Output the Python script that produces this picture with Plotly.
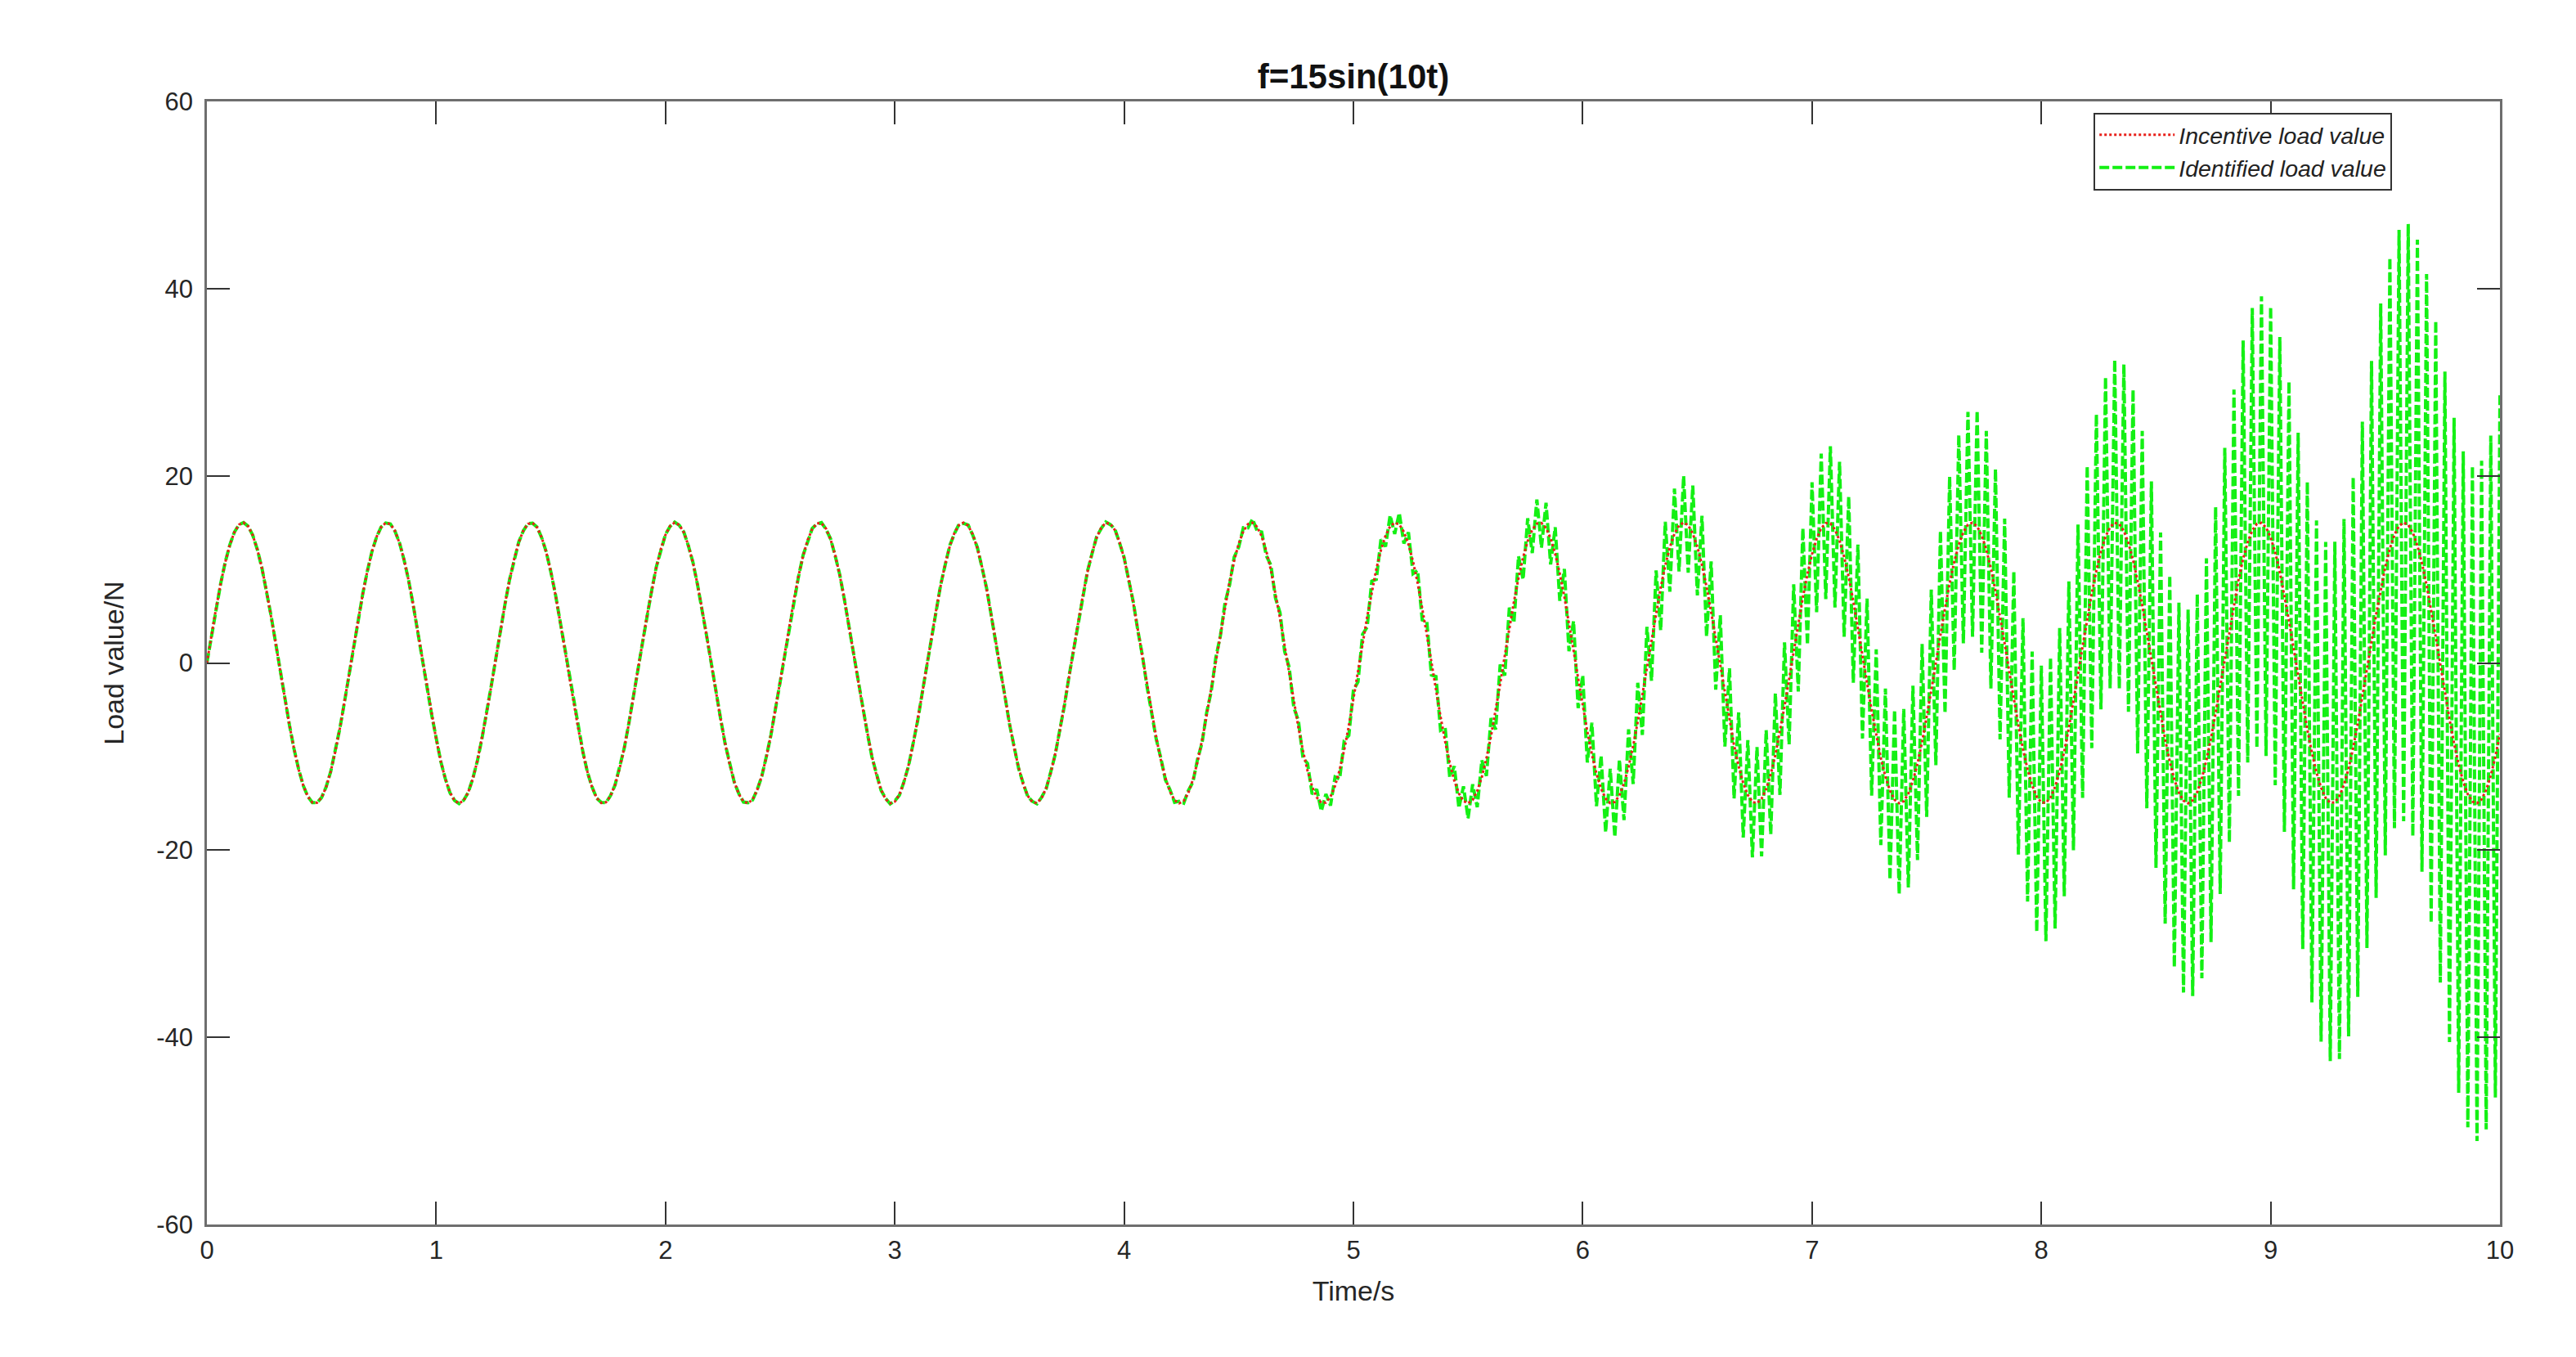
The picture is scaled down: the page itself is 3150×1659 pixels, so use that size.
import numpy as np
import plotly.graph_objects as go

# ---- text ----
title_text = "f=15sin(10t)"
x_label = "Time/s"
y_label = "Load value/N"
series_names = ["Incentive load value", "Identified load value"]

# ---- axes ----
x_ticks = [0, 1, 2, 3, 4, 5, 6, 7, 8, 9, 10]
y_ticks = [-60, -40, -20, 0, 20, 40, 60]

# ---- incentive load (parameters as stated in the title) ----
load_amplitude = 15
load_omega = 10
sample_step = 0.02
t_end = 10

# ---- identified load: half-width of the high-frequency band read at the
#      peaks / troughs of the incentive load ----
env_t = [0.0, 4.0, 4.56, 4.87, 5.18, 5.50, 5.81, 6.13, 6.44, 6.76, 7.07,
         7.38, 7.70, 8.01, 8.33, 8.64, 8.96, 9.27, 9.58, 9.90, 10.0]
env_a = [0.0, 0.1, 0.4, 0.9, 1.2, 1.6, 2.6, 3.7, 5.0, 6.0, 8.2,
         9.7, 12.2, 14.7, 17.5, 20.7, 24.2, 27.7, 31.9, 36.1, 36.5]

# ---- build series ----
t = np.round(np.arange(0, t_end + sample_step / 2, sample_step), 6)
incentive = load_amplitude * np.sin(load_omega * t)
band = np.interp(t, env_t, env_a)
alt = np.where(np.arange(t.size) % 2 == 0, 1.0, -1.0)
identified = incentive + alt * band

FONT = "Liberation Sans, Arial, Helvetica"
TXT = "#262626"

fig = go.Figure()
fig.add_trace(go.Scatter(
    x=t, y=identified, mode="lines", name=series_names[1],
    line=dict(color="#14f014", width=4, dash="12px,4px"),
))
fig.add_trace(go.Scatter(
    x=t, y=incentive, mode="lines", name=series_names[0],
    line=dict(color="#e8201a", width=3, dash="dot"),
))

axis_common = dict(
    showline=True, linecolor="#6e6e6e", linewidth=2.5, mirror="ticks",
    ticks="inside", ticklen=28, tickwidth=2, tickcolor="#333333",
    showgrid=False, zeroline=False,
    tickfont=dict(family=FONT, size=31, color=TXT),
)

fig.update_layout(
    width=3150, height=1659,
    margin=dict(l=245, r=101, t=116, b=170),
    plot_bgcolor="white", paper_bgcolor="white",
    title=dict(text="<b>" + title_text + "</b>", x=0.5, xref="paper", xanchor="center",
               y=1 - 85 / 1659, yref="container", yanchor="middle",
               font=dict(family=FONT, size=42, color="#111111")),
    xaxis=dict(range=[0, 10], tickvals=x_ticks, ticktext=[str(v) for v in x_ticks],
               ticklabelstandoff=2,
               title=dict(text=x_label, standoff=22,
                          font=dict(family=FONT, size=34, color=TXT)),
               **axis_common),
    yaxis=dict(range=[-60, 60], tickvals=y_ticks, ticktext=[str(v) for v in y_ticks],
               ticklabelstandoff=8,
               title=dict(text=y_label, standoff=30,
                          font=dict(family=FONT, size=34, color=TXT)),
               **axis_common),
    legend=dict(x=0.953, xanchor="right", y=0.99, yanchor="top",
                bgcolor="white", bordercolor="#333333", borderwidth=2,
                traceorder="reversed", itemwidth=92,
                font=dict(family=FONT, size=28.5, color="#222222", style="italic"),
                tracegroupgap=0),
    showlegend=True,
)

fig.write_html("out.html")
